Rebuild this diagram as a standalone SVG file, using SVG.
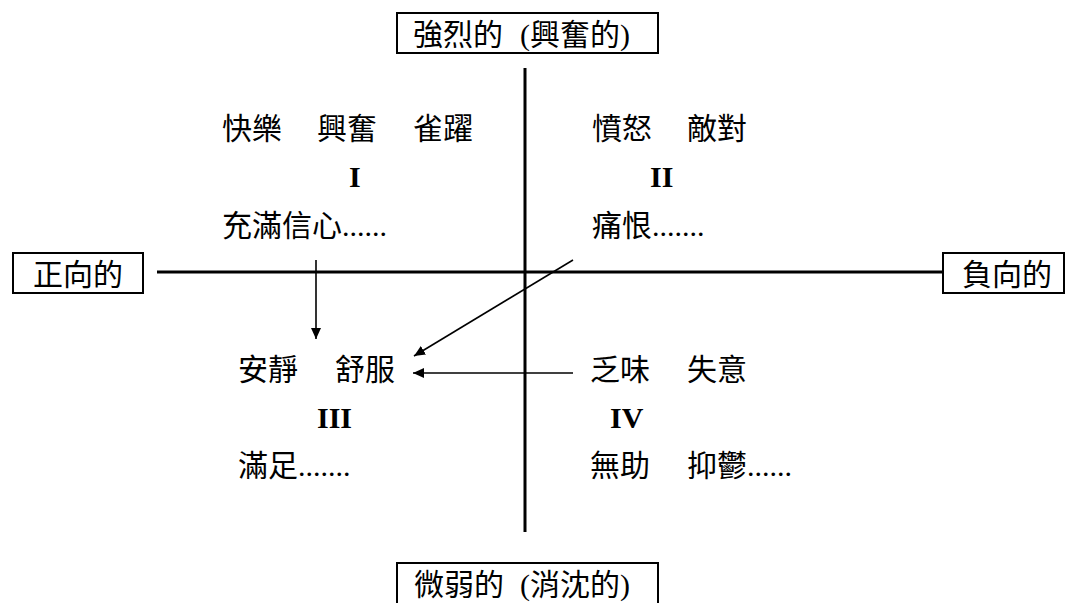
<svg xmlns="http://www.w3.org/2000/svg" width="1067" height="603" viewBox="0 0 1067 603">
<style>
.t{font-family:"Liberation Serif","Noto Sans CJK TC",serif;font-size:30px;fill:#000}
.r{font-family:"Liberation Serif",serif;font-size:30px;font-weight:bold;fill:#000}
.box{fill:#fff;stroke:#000;stroke-width:2}
.axis{stroke:#000;stroke-width:3;fill:none}
.arr{stroke:#000;stroke-width:1.6;fill:none;marker-end:url(#ah)}
</style>
<defs>
<marker id="ah" viewBox="0 0 11 10" refX="11" refY="5" markerWidth="11" markerHeight="10" markerUnits="userSpaceOnUse" orient="auto">
<path d="M0,0 L11,5 L0,10 Z" fill="#000"/>
</marker>
</defs>
<rect width="1067" height="603" fill="#fff"/>
<g id="connectors">
<line class="axis" x1="525" y1="68" x2="525" y2="532"/>
<line class="axis" x1="157" y1="272" x2="943" y2="272"/>
<line class="arr" x1="316" y1="260" x2="316" y2="339"/>
<line class="arr" x1="573" y1="260" x2="414" y2="356"/>
<line class="arr" x1="573" y1="373" x2="413" y2="373"/>
</g>
<g id="top-label">
<rect class="box" x="397" y="13" width="261" height="40"/>
<text class="t" x="413" y="45">強烈的</text>
<text class="t" x="520" y="45">(興奮的)</text>
</g>
<g id="bottom-label">
<rect class="box" x="397" y="563" width="261" height="50"/>
<text class="t" x="414" y="595">微弱的</text>
<text class="t" x="520" y="595">(消沈的)</text>
</g>
<g id="left-label">
<rect class="box" x="13" y="253" width="130" height="40"/>
<text class="t" x="33" y="285">正向的</text>
</g>
<g id="right-label">
<rect class="box" x="943" y="253" width="121" height="40"/>
<text class="t" x="962" y="285">負向的</text>
</g>
<g id="quadrant-1">
<text class="t" x="222" y="139">快樂</text>
<text class="t" x="317" y="139">興奮</text>
<text class="t" x="413" y="139">雀躍</text>
<text class="r" x="349" y="187">I</text>
<text class="t" x="222" y="236">充滿信心......</text>
</g>
<g id="quadrant-2">
<text class="t" x="592" y="139">憤怒</text>
<text class="t" x="687" y="139">敵對</text>
<text class="r" x="650" y="187">II</text>
<text class="t" x="592" y="236">痛恨.......</text>
</g>
<g id="quadrant-3">
<text class="t" x="238" y="380">安靜</text>
<text class="t" x="335" y="380">舒服</text>
<text class="r" x="317" y="428">III</text>
<text class="t" x="238" y="476">滿足.......</text>
</g>
<g id="quadrant-4">
<text class="t" x="590" y="380">乏味</text>
<text class="t" x="687" y="380">失意</text>
<text class="r" x="610" y="428">IV</text>
<text class="t" x="590" y="476">無助</text>
<text class="t" x="687" y="476">抑鬱......</text>
</g>
</svg>
